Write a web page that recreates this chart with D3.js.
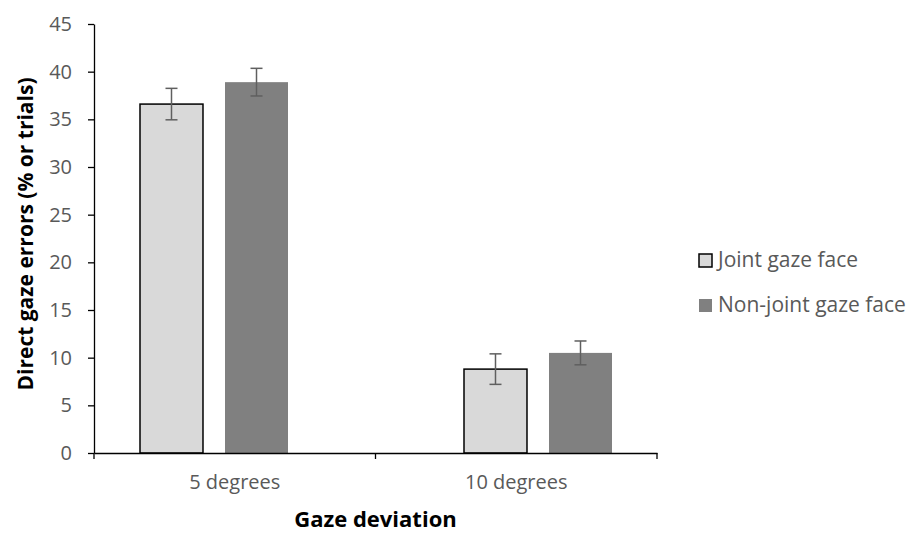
<!DOCTYPE html>
<html>
<head>
<meta charset="utf-8">
<script src="https://cdn.jsdelivr.net/npm/d3@7"></script>
<style>
  body { margin: 0; background: #fff; }
  svg { display: block; }
  text { font-family: "Open Sans", "Noto Sans", sans-serif; }
</style>
</head>
<body>
<svg id="chart" width="910" height="533"></svg>
<script>
// ---- data ----
const categories = ["5 degrees", "10 degrees"];
const series = ["Joint gaze face", "Non-joint gaze face"];
const means = [
  [36.6, 38.9],   // 5 degrees
  [8.8, 10.5]     // 10 degrees
];
const errors = [
  [1.65, 1.45],
  [1.6, 1.25]
];
const yTicks = [0, 5, 10, 15, 20, 25, 30, 35, 40, 45];

const fills = ["#d9d9d9", "#808080"];
const strokes = ["#000", "none"];
const labelColor = "#595959";

const svg = d3.select("#chart");

// plot area
const plot = { left: 94, right: 657, top: 24, bottom: 453 };

const y = d3.scaleLinear().domain([0, 45]).range([plot.bottom, plot.top]);

// category axis scale
const xAxis = d3.scaleBand().domain(categories).range([plot.left, plot.right]);

// bar placement (clusters sit off-centre in the original)
const xGroup = d3.scaleBand().domain(categories).range([52, 700]);
const xSeries = d3.scaleBand().domain(series).range([88, 236]).paddingInner(0.259);

const rows = [];
categories.forEach((c, i) => {
  series.forEach((s, j) => {
    rows.push({ cat: c, ser: s, j, value: means[i][j], err: errors[i][j] });
  });
});

// bars
svg.append("g").selectAll("rect")
  .data(rows)
  .enter()
  .append("rect")
  .attr("x", d => xGroup(d.cat) + xSeries(d.ser))
  .attr("y", d => y(d.value))
  .attr("width", xSeries.bandwidth())
  .attr("height", d => y(0) - y(d.value))
  .attr("fill", d => fills[d.j])
  .attr("stroke", d => strokes[d.j])
  .attr("stroke-width", 1.5);

// error bars
const eb = svg.append("g").attr("stroke", "#5f5f5f").attr("stroke-width", 1.5);
rows.forEach(d => {
  const cx = xGroup(d.cat) + xSeries(d.ser) + xSeries.bandwidth() / 2;
  eb.append("line").attr("x1", cx).attr("x2", cx)
    .attr("y1", y(d.value + d.err)).attr("y2", y(d.value - d.err));
  [d.value + d.err, d.value - d.err].forEach(v => {
    eb.append("line").attr("x1", cx - 6).attr("x2", cx + 6)
      .attr("y1", y(v)).attr("y2", y(v));
  });
});

// y axis
const yAxisG = svg.append("g")
  .attr("transform", `translate(${plot.left},0)`)
  .call(d3.axisLeft(y).tickValues(yTicks).tickSize(6).tickPadding(16).tickSizeOuter(0));
yAxisG.select(".domain").attr("stroke", "#000").attr("stroke-width", 1.3);
yAxisG.selectAll(".tick line").attr("stroke", "#000").attr("stroke-width", 1.3);
yAxisG.selectAll(".tick text")
  .attr("fill", labelColor)
  .style("font-size", "20px")
  .style("font-family", "'Open Sans', sans-serif");

// x axis
const xAxisG = svg.append("g")
  .attr("transform", `translate(0,${plot.bottom})`)
  .call(d3.axisBottom(xAxis).tickSize(0).tickPadding(22));
xAxisG.select(".domain").attr("stroke", "#000").attr("stroke-width", 1.3);
xAxisG.selectAll(".tick text")
  .attr("fill", labelColor)
  .style("font-size", "20px")
  .style("font-family", "'Open Sans', sans-serif");

// category boundary ticks
const bounds = [plot.left, xAxis(categories[1]), plot.right];
svg.append("g").selectAll("line")
  .data(bounds)
  .enter()
  .append("line")
  .attr("x1", d => d).attr("x2", d => d)
  .attr("y1", plot.bottom).attr("y2", plot.bottom + 6)
  .attr("stroke", "#000").attr("stroke-width", 1.3);

// axis titles
svg.append("text")
  .attr("x", (plot.left + plot.right) / 2)
  .attr("y", 527)
  .attr("text-anchor", "middle")
  .attr("font-weight", "bold")
  .attr("font-size", "22px")
  .attr("fill", "#000")
  .text("Gaze deviation");

svg.append("text")
  .attr("transform", `translate(33,234) rotate(-90)`)
  .attr("text-anchor", "middle")
  .attr("font-weight", "bold")
  .attr("font-size", "21px")
  .attr("fill", "#000")
  .text("Direct gaze errors (% or trials)");

// legend
const legend = svg.append("g").attr("transform", "translate(699,254)");
series.forEach((s, j) => {
  const g = legend.append("g").attr("transform", `translate(0,${j * 45})`);
  g.append("rect")
    .attr("x", 0).attr("y", 0).attr("width", 13).attr("height", 13)
    .attr("fill", fills[j])
    .attr("stroke", strokes[j])
    .attr("stroke-width", 1.5);
  g.append("text")
    .attr("x", 19).attr("y", 13)
    .attr("fill", labelColor)
    .attr("font-size", "21px")
    .text(s);
});
</script>
</body>
</html>
